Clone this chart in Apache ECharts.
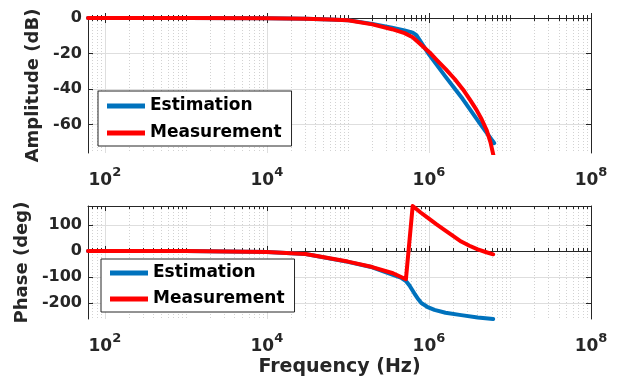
<!DOCTYPE html>
<html>
<head>
<meta charset="utf-8">
<script src="https://cdn.jsdelivr.net/npm/echarts@6/dist/echarts.min.js"></script>
<style>
  html, body { margin: 0; padding: 0; background: #fff; }
  #main { width: 624px; height: 385px; }
</style>
</head>
<body>
<div id="main"></div>
<script>
// amplitude (dB)
var estAmpFreq = [62, 1e3, 1e4, 3e4, 6e4, 1e5, 2e5, 3.5e5, 5e5, 6.3e5, 7e5, 1e6, 1.6e6, 2.6e6, 4.2e6, 6.4e6];
var estAmp     = [0, 0, -0.1, -0.4, -0.9, -1.2, -3.3, -5.5, -7.0, -8.2, -9.6, -20.5, -33, -45.5, -59, -70.5];
var measAmpFreq = [62, 1e3, 1e4, 3e4, 6e4, 1e5, 2e5, 3.5e5, 5e5, 6.3e5, 1.02e6, 1.26e6, 1.62e6, 2.09e6, 2.63e6, 3.16e6, 3.85e6, 4.47e6, 5.13e6, 5.75e6, 6.3e6];
var measAmp     = [0, 0, -0.1, -0.4, -0.9, -1.3, -3.6, -6.3, -8.5, -10.8, -19.4, -23.8, -28.9, -34.5, -40.2, -45.5, -51.6, -57, -62.9, -70, -78];

// phase (deg)
var estPhFreq = [62, 1e3, 1e4, 3e4, 1e5, 2e5, 3.6e5, 4.5e5, 5.2e5, 5.75e5, 6.6e5, 7.4e5, 8.1e5, 9.5e5, 1.17e6, 1.6e6, 2.5e6, 4e6, 6.2e6];
var estPh     = [0, -0.5, -4, -12, -42, -63, -92, -103, -116, -133, -163, -186, -201, -215, -227, -238, -247, -256, -262];
var measPhFreq = [62, 1e3, 1e4, 3e4, 1e5, 2e5, 3.6e5, 5.2e5, 6.3e5, 7.9e5, 9.8e5, 1.23e6, 1.55e6, 2e6, 2.5e6, 3.16e6, 4e6, 5e6, 6.2e6];
var measPh     = [0, -0.5, -4, -12, -41, -62, -86, -109, 173, 148, 126, 103, 81, 57, 36, 20, 6, -4, -13];

var seriesNames = ['Estimation', 'Measurement'];
var xTicks = [1e2, 1e4, 1e6, 1e8];
var ampTicks = [-60, -40, -20, 0];
var phTicks = [-200, -100, 0, 100];

var xMin = 62, xMax = 1e8;
var ampMin = -76, ampMax = 0;
var phMin = -262, phMax = 173;

var axisColor = '#262626';
var font = 'DejaVu Sans';

// minor ticks 2..9 x 10^n and the odd decades
var minorTicks = [];
for (var n = 1; n < 8; n++) {
  for (var k = 1; k < 10; k++) {
    var v = k * Math.pow(10, n);
    if (v >= xMin && v <= xMax && xTicks.indexOf(v) < 0) minorTicks.push(v);
  }
}

function pairs(xs, ys) {
  var out = [];
  for (var i = 0; i < xs.length; i++) out.push([xs[i], ys[i]]);
  return out;
}

function xAxes(g, withName) {
  return [
    {
      gridIndex: g, type: 'log', logBase: 10, min: xMin, max: xMax, position: 'bottom',
      name: withName ? 'Frequency (Hz)' : '', nameLocation: 'middle', nameGap: 39,
      nameTextStyle: { fontFamily: font, fontWeight: 'bold', fontSize: 19, color: axisColor },
      axisLine: { show: true, lineStyle: { color: axisColor, width: 1 } },
      axisTick: { show: true, inside: true, length: 5, customValues: xTicks, lineStyle: { color: axisColor } },
      axisLabel: {
        customValues: xTicks, margin: 13, color: axisColor,
        formatter: function (v) { return '{b|10}{s|' + Math.round(Math.log10(v)) + '}'; },
        rich: {
          b: { fontFamily: font, fontWeight: 'bold', fontSize: 17, lineHeight: 29, color: axisColor },
          s: { fontFamily: font, fontWeight: 'bold', fontSize: 13, lineHeight: 13, verticalAlign: 'top', color: axisColor }
        }
      },
      splitLine: { show: true, lineStyle: { color: '#dedede', width: 1 } }
    },
    {
      gridIndex: g, type: 'log', logBase: 10, min: xMin, max: xMax, position: 'bottom',
      axisLine: { show: false },
      axisTick: { show: true, inside: true, length: 3, customValues: minorTicks, lineStyle: { color: axisColor } },
      axisLabel: { show: false },
      splitLine: { show: true, lineStyle: { color: '#d2d2d2', width: 1, type: [1, 2] } }
    },
    {
      gridIndex: g, type: 'log', logBase: 10, min: xMin, max: xMax, position: 'top',
      axisLine: { show: true, lineStyle: { color: axisColor, width: 1 } },
      axisTick: { show: true, inside: true, length: 5, customValues: xTicks, lineStyle: { color: axisColor } },
      axisLabel: { show: false }, splitLine: { show: false }
    },
    {
      gridIndex: g, type: 'log', logBase: 10, min: xMin, max: xMax, position: 'top',
      axisLine: { show: false },
      axisTick: { show: true, inside: true, length: 3, customValues: minorTicks, lineStyle: { color: axisColor } },
      axisLabel: { show: false }, splitLine: { show: false }
    }
  ];
}

function yAxes(g, name, lo, hi, ticks, gap) {
  return [
    {
      gridIndex: g, type: 'value', min: lo, max: hi, position: 'left',
      name: name, nameLocation: 'middle', nameGap: gap, nameRotate: 90,
      nameTextStyle: { fontFamily: font, fontWeight: 'bold', fontSize: 18, color: axisColor },
      axisLine: { show: true, lineStyle: { color: axisColor, width: 1 } },
      axisTick: { show: true, inside: true, length: 5, customValues: ticks, lineStyle: { color: axisColor } },
      axisLabel: { customValues: ticks, margin: 6, fontFamily: font, fontWeight: 'bold', fontSize: 16, color: axisColor },
      splitLine: { show: true, lineStyle: { color: '#dedede', width: 1 } }
    },
    {
      gridIndex: g, type: 'value', min: lo, max: hi, position: 'right',
      axisLine: { show: true, lineStyle: { color: axisColor, width: 1 } },
      axisTick: { show: true, inside: true, length: 5, customValues: ticks, lineStyle: { color: axisColor } },
      axisLabel: { show: false }, splitLine: { show: false }
    }
  ];
}

function legendAt(left, top, pad, gap) {
  return {
    data: seriesNames, orient: 'vertical', left: left, top: top,
    padding: pad, itemGap: gap, itemWidth: 38, itemHeight: 5, icon: 'rect',
    backgroundColor: '#fff', borderColor: axisColor, borderWidth: 1, borderRadius: 0,
    selectedMode: false,
    textStyle: { fontFamily: font, fontWeight: 'bold', fontSize: 17, lineHeight: 22, color: '#000' }
  };
}

function lineSeries(name, color, xi, yi, data) {
  return {
    name: name, type: 'line', xAxisIndex: xi, yAxisIndex: yi, data: data,
    showSymbol: false, symbol: 'none', animation: false,
    itemStyle: { color: color },
    lineStyle: { color: color, width: 4, cap: 'round', join: 'round' }
  };
}

var blue = '#0072bd', red = '#ff0000';

var chart = echarts.init(document.getElementById('main'));
var option = {
  backgroundColor: '#fff',
  animation: false,
  grid: [
    { left: 88, top: 18, width: 503, height: 135 },
    { left: 88, top: 206, width: 503, height: 113 }
  ],
  legend: [
    legendAt(98, 91, [4, 10, 2, 9], 5),
    legendAt(101, 259, [3, 10, 2, 9], 4)
  ],
  xAxis: xAxes(0, false).concat(xAxes(1, true)),
  yAxis: yAxes(0, 'Amplitude (dB)', ampMin, ampMax, ampTicks, 41)
    .concat(yAxes(1, 'Phase (deg)', phMin, phMax, phTicks, 50)),
  series: [
    lineSeries('Estimation', blue, 0, 0, pairs(estAmpFreq, estAmp)),
    lineSeries('Measurement', red, 0, 0, pairs(measAmpFreq, measAmp)),
    lineSeries('Estimation', blue, 4, 2, pairs(estPhFreq, estPh)),
    lineSeries('Measurement', red, 4, 2, pairs(measPhFreq, measPh))
  ]
};
chart.setOption(option);
</script>
</body>
</html>
